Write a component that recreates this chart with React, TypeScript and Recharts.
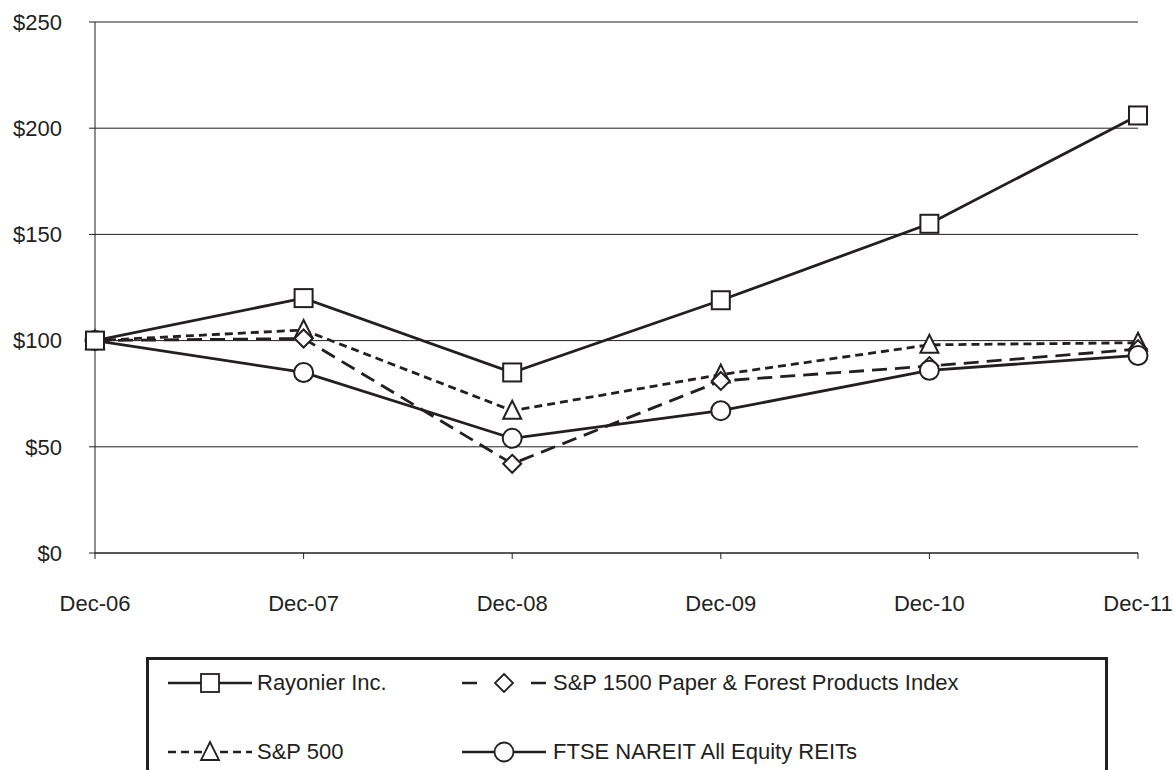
import React from "react";
import { LineChart, Line, XAxis, YAxis, CartesianGrid, Legend } from "recharts";

const years = ["Dec-06", "Dec-07", "Dec-08", "Dec-09", "Dec-10", "Dec-11"];
const rayonier = [100, 120, 85, 119, 155, 206];
const paperForest = [100, 101, 42, 81, 88, 96];
const sp500 = [100, 105, 67, 84, 98, 99];
const ftseNareit = [100, 85, 54, 67, 86, 93];
const yTicks = [0, 50, 100, 150, 200, 250];

const data = years.map((name, i) => ({
  name,
  rayonier: rayonier[i],
  paper: paperForest[i],
  sp500: sp500[i],
  ftse: ftseNareit[i],
}));

const INK = "#231f20";
const FONT = '"Liberation Sans", Arial, sans-serif';

type Shape = "square" | "diamond" | "triangle" | "circle";

// marker drawn at a point
const markerPath = (shape: Shape, cx: number, cy: number) => {
  if (shape === "square") return <rect x={cx - 9} y={cy - 9} width={18} height={18} />;
  if (shape === "diamond")
    return <polygon points={`${cx},${cy - 9} ${cx + 9},${cy} ${cx},${cy + 9} ${cx - 9},${cy}`} />;
  if (shape === "triangle")
    return <polygon points={`${cx},${cy - 10} ${cx + 9},${cy + 8} ${cx - 9},${cy + 8}`} />;
  return <circle cx={cx} cy={cy} r={9.5} />;
};

const makeDot = (shape: Shape) => (props: any) => {
  const { cx, cy, index } = props;
  return (
    <g key={`${shape}-${index}`} fill="#fff" stroke={INK} strokeWidth={2}>
      {markerPath(shape, cx, cy)}
    </g>
  );
};

const legendItems = [
  { label: "Rayonier Inc.", shape: "square" as Shape, dash: undefined, col: 0, row: 0 },
  { label: "S&P 1500 Paper & Forest Products Index", shape: "diamond" as Shape, dash: "15 15", col: 1, row: 0 },
  { label: "S&P 500", shape: "triangle" as Shape, dash: "8 5", col: 0, row: 1 },
  { label: "FTSE NAREIT All Equity REITs", shape: "circle" as Shape, dash: undefined, col: 1, row: 1 },
];

const LegendBox = () => (
  <div
    style={{
      position: "relative",
      width: 962,
      height: 113,
      boxSizing: "border-box",
      border: `3px solid ${INK}`,
      borderBottom: "none",
      fontFamily: FONT,
      fontSize: 22,
      color: INK,
    }}
  >
    {legendItems.map((it) => {
      const iconLeft = it.col === 0 ? 19 : 313;
      const textLeft = it.col === 0 ? 108 : 404;
      const top = it.row === 0 ? 23 : 92;
      return (
        <React.Fragment key={it.label}>
          <svg
            width={84}
            height={24}
            style={{ position: "absolute", left: iconLeft, top: top - 12 }}
          >
            {it.shape === "diamond" ? (
              <>
                <line x1={0} y1={12} x2={15} y2={12} stroke={INK} strokeWidth={2.5} />
                <line x1={69} y1={12} x2={84} y2={12} stroke={INK} strokeWidth={2.5} />
              </>
            ) : (
              <line
                x1={0}
                y1={12}
                x2={84}
                y2={12}
                stroke={INK}
                strokeWidth={2.5}
                strokeDasharray={it.dash}
              />
            )}
            <g fill="#fff" stroke={INK} strokeWidth={1.8}>
              {markerPath(it.shape, 42, 12)}
            </g>
          </svg>
          <span
            style={{
              position: "absolute",
              left: textLeft,
              top: top - 13,
              lineHeight: "26px",
              whiteSpace: "nowrap",
            }}
          >
            {it.label}
          </span>
        </React.Fragment>
      );
    })}
  </div>
);

export default function App() {
  return (
    <div style={{ position: "absolute", left: 0, top: 0 }}>
      <LineChart
        width={1176}
        height={770}
        data={data}
        margin={{ top: 22, right: 38, left: 0, bottom: 34 }}
      >
        <CartesianGrid vertical={false} stroke={INK} strokeWidth={1} />
        <XAxis
          dataKey="name"
          height={70}
          axisLine={{ stroke: INK }}
          tickLine={{ stroke: INK }}
          tickSize={6}
          tickMargin={36}
          tick={{ fill: INK, fontSize: 22, fontFamily: FONT }}
          interval={0}
        />
        <YAxis
          width={95}
          domain={[0, 250]}
          ticks={yTicks}
          axisLine={{ stroke: INK }}
          tickLine={{ stroke: INK }}
          tickSize={6}
          tickMargin={27}
          tickFormatter={(v: number) => `$${v}`}
          tick={{ fill: INK, fontSize: 22, fontFamily: FONT }}
        />
        <Legend
          verticalAlign="bottom"
          content={() => <LegendBox />}
          wrapperStyle={{ left: 146, top: 657, bottom: "auto", width: 962, height: 113 }}
        />
        <Line
          dataKey="sp500"
          stroke={INK}
          strokeWidth={2.8}
          strokeDasharray="8 5"
          dot={makeDot("triangle")}
          isAnimationActive={false}
        />
        <Line
          dataKey="paper"
          stroke={INK}
          strokeWidth={2.8}
          strokeDasharray="15 8"
          dot={makeDot("diamond")}
          isAnimationActive={false}
        />
        <Line
          dataKey="ftse"
          stroke={INK}
          strokeWidth={2.8}
          dot={makeDot("circle")}
          isAnimationActive={false}
        />
        <Line
          dataKey="rayonier"
          stroke={INK}
          strokeWidth={2.8}
          dot={makeDot("square")}
          isAnimationActive={false}
        />
      </LineChart>
    </div>
  );
}
